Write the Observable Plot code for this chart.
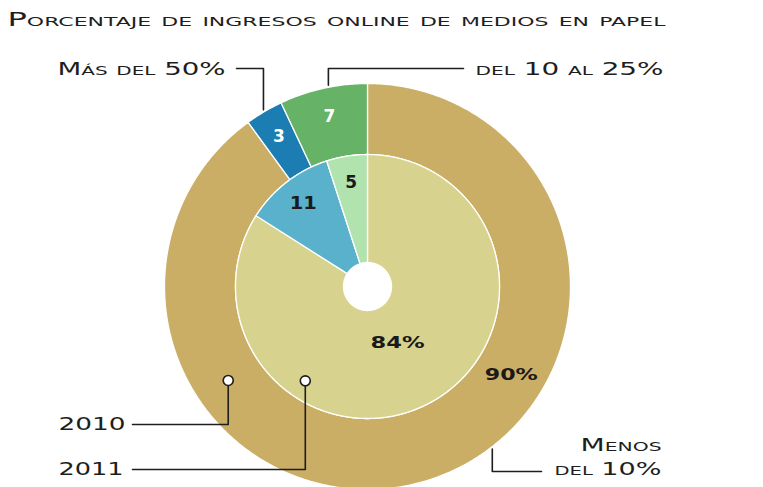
<!DOCTYPE html>
<html><head><meta charset="utf-8">
<script src="https://cdn.jsdelivr.net/npm/d3@7"></script>
<script src="https://cdn.jsdelivr.net/npm/@observablehq/plot@0.6"></script>
<style>body{margin:0;background:#fff}</style>
</head><body><div id="chart"></div>
<script>
// ---- data (clockwise from 12 o'clock) ----
const categories = ["Menos del 10%", "Más del 50%", "del 10 al 25%"];
const years = ["2010", "2011"];
const values2010 = [90, 3, 7];
const values2011 = [84, 11, 5];
const labels2010 = ["90%", "3", "7"];
const labels2011 = ["84%", "11", "5"];
const title = "Porcentaje de ingresos online de medios en papel";

// ---- styles / layout ----
const colors2010 = ["#cbae66", "#1b7db2", "#66b266"];
const colors2011 = ["#d7d38e", "#5ab1cc", "#b1e3ae"];
const labelFill2010 = ["#1a1a1a", "#ffffff", "#ffffff"];
const labelFill2011 = ["#1a1a1a", "#1a1a1a", "#1a1a1a"];
const W = 763, H = 487;
const cx = 367, cy = 286, rHole = 24, rMid = 132, rOuter = 203;
const FONT = "DejaVu Sans";
const ink = "#1e1e1e";

const toXY = (r, a) => [cx + r * Math.sin(a), cy - r * Math.cos(a)];
const deg = d => d * Math.PI / 180;

function ring(values, r0, r1, year, colors) {
  const total = d3.sum(values);
  let acc = 0;
  const pts = [], slices = [];
  values.forEach((v, i) => {
    const a0 = acc / total * 2 * Math.PI, a1 = (acc + v) / total * 2 * Math.PI;
    acc += v;
    const key = year + " " + categories[i];
    const n = Math.max(2, Math.ceil((a1 - a0) / 0.01));
    const poly = [];
    for (let k = 0; k <= n; k++) poly.push(toXY(r1, a0 + (a1 - a0) * k / n));
    for (let k = n; k >= 0; k--) poly.push(toXY(r0, a0 + (a1 - a0) * k / n));
    poly.push(poly[0]);
    poly.forEach(([x, y]) => pts.push({key, x, y}));
    slices.push({key, a0, a1, mid: (a0 + a1) / 2, color: colors[i]});
  });
  return {pts, slices};
}

const outer = ring(values2010, rMid, rOuter, years[0], colors2010);
const inner = ring(values2011, rHole, rMid, years[1], colors2011);
const allPts = outer.pts.concat(inner.pts);
const allSlices = outer.slices.concat(inner.slices);

// slice value labels
const labelLayout2010 = [{a: deg(121.7), r: 169}, null, null];
const labelLayout2011 = [{a: deg(152), r: 64}, null, null];
const sliceLabels = [];
outer.slices.forEach((s, i) => {
  const L = labelLayout2010[i] || {a: s.mid, r: 174};
  const [x, y] = toXY(L.r, L.a);
  sliceLabels.push({x, y, text: labels2010[i], fill: labelFill2010[i], size: i === 0 ? 16 : 17});
});
inner.slices.forEach((s, i) => {
  const L = labelLayout2011[i] || {a: s.mid, r: 105};
  const [x, y] = toXY(L.r, L.a);
  sliceLabels.push({x, y, text: labels2011[i], fill: labelFill2011[i], size: i === 0 ? 16 : 17});
});

// leader lines
const leaders = [];
function leaderVH(key, a, r, yElbow, xEnd) {
  const [x0, y0] = toXY(r, a);
  leaders.push({key, x: x0, y: y0}, {key, x: x0, y: yElbow}, {key, x: xEnd, y: yElbow});
  return [x0, y0];
}
leaderVH("mas", deg(-30.5), 205, 68, 236);
leaderVH("d10", deg(-11), 205, 68, 463);
leaderVH("menos", deg(142.5), 205, 471, 541);
const dot2010 = leaderVH("y2010", deg(236), 168, 424, 132);
const dot2011 = leaderVH("y2011", deg(213.4), 113, 469, 132);
const dots = [{x: dot2010[0], y: dot2010[1]}, {x: dot2011[0], y: dot2011[1]}];

const annotations = [
  {x: 7, y: 19, text: title, anchor: "start", size: 19, w: 658},
  {x: 225, y: 69, text: categories[1], anchor: "end", size: 18, w: 168},
  {x: 475, y: 69, text: categories[2], anchor: "start", size: 18, w: 188},
  {x: 661, y: 445, text: "Menos", anchor: "end", size: 18, w: 81},
  {x: 661, y: 469, text: "del 10%", anchor: "end", size: 18, w: 107},
  {x: 58, y: 424, text: years[0], anchor: "start", size: 17, w: 67},
  {x: 58, y: 469, text: years[1], anchor: "start", size: 17, w: 65}
];
const textLengths = new Map(annotations.map(d => [d.text, d.w]));
textLengths.set("90%", 53); textLengths.set("84%", 54); textLengths.set("11", 27);

const chart = Plot.plot({
  width: W, height: H, margin: 0,
  x: {domain: [0, W], axis: null},
  y: {domain: [0, H], reverse: true, axis: null},
  color: {type: "ordinal", domain: allSlices.map(s => s.key), range: allSlices.map(s => s.color)},
  style: {background: "#fff"},
  marks: [
    Plot.line(allPts, {x: "x", y: "y", z: "key", fill: "key", stroke: "#fff", strokeWidth: 1.3, curve: "linear"}),
    Plot.line(leaders, {x: "x", y: "y", z: "key", stroke: ink, strokeWidth: 1.6}),
    Plot.dot(dots, {x: "x", y: "y", r: 5, fill: "#fff", stroke: ink, strokeWidth: 1.6}),
    Plot.text(sliceLabels, {x: "x", y: "y", text: "text", fill: d => d.fill, fontSize: d => d.size, fontFamily: FONT, fontWeight: "bold", lineAnchor: "middle"}),
    ...annotations.map(a => Plot.text([a], {x: "x", y: "y", text: "text", textAnchor: a.anchor, fontSize: a.size, fontFamily: FONT, fontVariant: "small-caps", fill: ink, lineAnchor: "middle"}))
  ]
});
// stretch text to the extended look of the original typeface
d3.select(chart).selectAll("text").each(function() {
  const w = textLengths.get(this.textContent);
  if (w) { this.setAttribute("textLength", w); this.setAttribute("lengthAdjust", "spacingAndGlyphs"); }
});
document.getElementById("chart").appendChild(chart);
</script>
</body></html>
